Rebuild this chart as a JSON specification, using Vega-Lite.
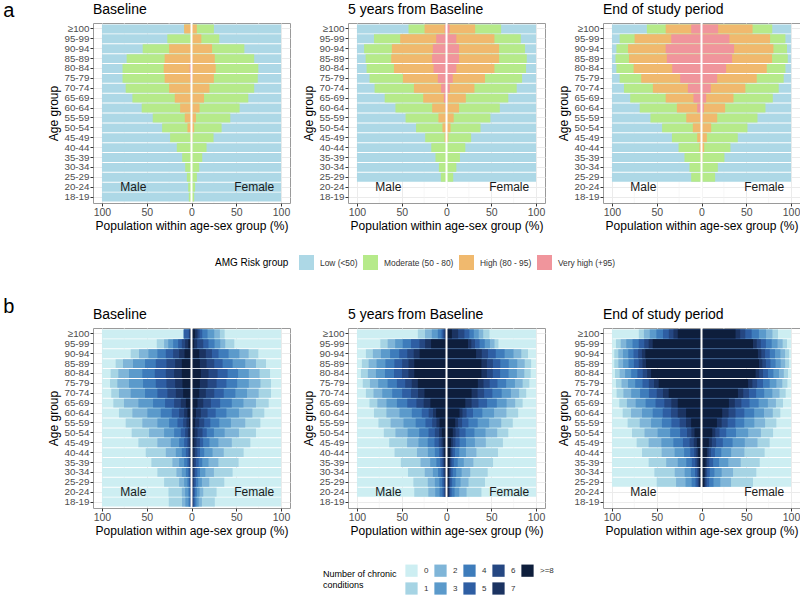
{
  "$schema": "https://vega.github.io/schema/vega-lite/v6.json",
  "background": "white",
  "padding": {"left": 3, "top": 1, "right": 1, "bottom": 3},
  "config": {
    "font": "Liberation Sans",
    "view": {"stroke": "#9a9a9a", "strokeWidth": 1},
    "axis": {"labelFontSize": 10.5, "labelColor": "#4D4D4D", "titleFontSize": 12, "titleFontWeight": "normal", "titleColor": "#000000", "tickColor": "#333333", "tickSize": 3, "domain": false, "gridColor": "#EBEBEB", "labelPadding": 1, "titlePadding": 3},
    "axisY": {"labelFontSize": 9.8},
    "title": {"fontSize": 14, "fontWeight": "normal", "anchor": "start", "frame": "group", "color": "#000000", "offset": 5},
    "concat": {"spacing": 11}
  },
  "datasets": {
    "sexlab": [
      {"x": -65, "a": "20-24", "t": "Male"},
      {"x": 70, "a": "20-24", "t": "Female"}
    ],
    "minor": [{"g": -75}, {"g": -25}, {"g": 25}, {"g": 75}],
    "risk": [
      {"p":1,"a":"≥100","s":"M","lo":-100,"mo":-8.2,"hi":-8.2,"vh":0},
      {"p":1,"a":"95-99","s":"M","lo":-100,"mo":-27,"hi":0,"vh":0},
      {"p":1,"a":"90-94","s":"M","lo":-100,"mo":-54.5,"hi":-25,"vh":0},
      {"p":1,"a":"85-89","s":"M","lo":-100,"mo":-72.4,"hi":-30,"vh":-0.8},
      {"p":1,"a":"80-84","s":"M","lo":-100,"mo":-77,"hi":-31,"vh":-2},
      {"p":1,"a":"75-79","s":"M","lo":-100,"mo":-77,"hi":-30,"vh":-1.5},
      {"p":1,"a":"70-74","s":"M","lo":-100,"mo":-73.5,"hi":-25,"vh":-0.5},
      {"p":1,"a":"65-69","s":"M","lo":-100,"mo":-66,"hi":-18.7,"vh":0},
      {"p":1,"a":"60-64","s":"M","lo":-100,"mo":-55.6,"hi":-12.7,"vh":0},
      {"p":1,"a":"55-59","s":"M","lo":-100,"mo":-43.3,"hi":-7.5,"vh":0},
      {"p":1,"a":"50-54","s":"M","lo":-100,"mo":-32.8,"hi":-4.5,"vh":0},
      {"p":1,"a":"45-49","s":"M","lo":-100,"mo":-23.9,"hi":-1,"vh":0},
      {"p":1,"a":"40-44","s":"M","lo":-100,"mo":-16.4,"hi":0,"vh":0},
      {"p":1,"a":"35-39","s":"M","lo":-100,"mo":-10.4,"hi":0,"vh":0},
      {"p":1,"a":"30-34","s":"M","lo":-100,"mo":-7,"hi":0,"vh":0},
      {"p":1,"a":"25-29","s":"M","lo":-100,"mo":-5.2,"hi":0,"vh":0},
      {"p":1,"a":"20-24","s":"M","lo":-100,"mo":-3.7,"hi":0,"vh":0},
      {"p":1,"a":"18-19","s":"M","lo":-100,"mo":-3,"hi":0,"vh":0},
      {"p":1,"a":"≥100","s":"F","lo":100,"mo":25,"hi":6,"vh":0},
      {"p":1,"a":"95-99","s":"F","lo":100,"mo":31,"hi":11,"vh":0},
      {"p":1,"a":"90-94","s":"F","lo":100,"mo":59,"hi":23,"vh":0},
      {"p":1,"a":"85-89","s":"F","lo":100,"mo":70,"hi":26,"vh":0.8},
      {"p":1,"a":"80-84","s":"F","lo":100,"mo":74.6,"hi":27,"vh":1},
      {"p":1,"a":"75-79","s":"F","lo":100,"mo":74,"hi":25,"vh":0.8},
      {"p":1,"a":"70-74","s":"F","lo":100,"mo":70,"hi":20,"vh":0},
      {"p":1,"a":"65-69","s":"F","lo":100,"mo":63.4,"hi":14,"vh":0},
      {"p":1,"a":"60-64","s":"F","lo":100,"mo":53.7,"hi":9,"vh":0},
      {"p":1,"a":"55-59","s":"F","lo":100,"mo":43.3,"hi":5,"vh":0},
      {"p":1,"a":"50-54","s":"F","lo":100,"mo":33.6,"hi":3,"vh":0},
      {"p":1,"a":"45-49","s":"F","lo":100,"mo":24.6,"hi":1,"vh":0},
      {"p":1,"a":"40-44","s":"F","lo":100,"mo":16.8,"hi":0,"vh":0},
      {"p":1,"a":"35-39","s":"F","lo":100,"mo":12,"hi":0,"vh":0},
      {"p":1,"a":"30-34","s":"F","lo":100,"mo":8.6,"hi":0,"vh":0},
      {"p":1,"a":"25-29","s":"F","lo":100,"mo":6,"hi":0,"vh":0},
      {"p":1,"a":"20-24","s":"F","lo":100,"mo":4,"hi":0,"vh":0},
      {"p":1,"a":"18-19","s":"F","lo":100,"mo":3,"hi":0,"vh":0},
      {"p":2,"a":"≥100","s":"M","lo":-100,"mo":-42.4,"hi":-24.5,"vh":-2},
      {"p":2,"a":"95-99","s":"M","lo":-100,"mo":-81,"hi":-51.7,"vh":-11.5},
      {"p":2,"a":"90-94","s":"M","lo":-100,"mo":-92,"hi":-61,"vh":-15.2},
      {"p":2,"a":"85-89","s":"M","lo":-100,"mo":-90.3,"hi":-61.7,"vh":-16},
      {"p":2,"a":"80-84","s":"M","lo":-100,"mo":-89.2,"hi":-58.7,"vh":-14.5},
      {"p":2,"a":"75-79","s":"M","lo":-100,"mo":-85.9,"hi":-48.7,"vh":-9.7},
      {"p":2,"a":"70-74","s":"M","lo":-100,"mo":-80.3,"hi":-36.4,"vh":-6},
      {"p":2,"a":"65-69","s":"M","lo":-100,"mo":-69,"hi":-26,"vh":-3},
      {"p":2,"a":"60-64","s":"M","lo":-100,"mo":-57,"hi":-16,"vh":-1},
      {"p":2,"a":"55-59","s":"M","lo":-100,"mo":-45.7,"hi":-9,"vh":0},
      {"p":2,"a":"50-54","s":"M","lo":-100,"mo":-34,"hi":-4.5,"vh":0},
      {"p":2,"a":"45-49","s":"M","lo":-100,"mo":-23.8,"hi":-2,"vh":0},
      {"p":2,"a":"40-44","s":"M","lo":-100,"mo":-17,"hi":0,"vh":0},
      {"p":2,"a":"35-39","s":"M","lo":-100,"mo":-12.3,"hi":0,"vh":0},
      {"p":2,"a":"30-34","s":"M","lo":-100,"mo":-8.5,"hi":0,"vh":0},
      {"p":2,"a":"25-29","s":"M","lo":-100,"mo":-6.3,"hi":0,"vh":0},
      {"p":2,"a":"≥100","s":"F","lo":100,"mo":61,"hi":32,"vh":3.5},
      {"p":2,"a":"95-99","s":"F","lo":100,"mo":83,"hi":53.5,"vh":11},
      {"p":2,"a":"90-94","s":"F","lo":100,"mo":87.7,"hi":58.7,"vh":14},
      {"p":2,"a":"85-89","s":"F","lo":100,"mo":89.6,"hi":58.7,"vh":14},
      {"p":2,"a":"80-84","s":"F","lo":100,"mo":88.8,"hi":53.5,"vh":11},
      {"p":2,"a":"75-79","s":"F","lo":100,"mo":84.4,"hi":43,"vh":7},
      {"p":2,"a":"70-74","s":"F","lo":100,"mo":78.4,"hi":31.2,"vh":3.7},
      {"p":2,"a":"65-69","s":"F","lo":100,"mo":69,"hi":21.6,"vh":1.5},
      {"p":2,"a":"60-64","s":"F","lo":100,"mo":59.5,"hi":14,"vh":1},
      {"p":2,"a":"55-59","s":"F","lo":100,"mo":49,"hi":8,"vh":0},
      {"p":2,"a":"50-54","s":"F","lo":100,"mo":38,"hi":4.5,"vh":0},
      {"p":2,"a":"45-49","s":"F","lo":100,"mo":27.5,"hi":2,"vh":0},
      {"p":2,"a":"40-44","s":"F","lo":100,"mo":21,"hi":0,"vh":0},
      {"p":2,"a":"35-39","s":"F","lo":100,"mo":15,"hi":0,"vh":0},
      {"p":2,"a":"30-34","s":"F","lo":100,"mo":11,"hi":0,"vh":0},
      {"p":2,"a":"25-29","s":"F","lo":100,"mo":7.5,"hi":0,"vh":0},
      {"p":3,"a":"≥100","s":"M","lo":-100,"mo":-61,"hi":-40,"vh":-11.5},
      {"p":3,"a":"95-99","s":"M","lo":-100,"mo":-91.4,"hi":-74.7,"vh":-33.8},
      {"p":3,"a":"90-94","s":"M","lo":-100,"mo":-95,"hi":-82,"vh":-40},
      {"p":3,"a":"85-89","s":"M","lo":-100,"mo":-96,"hi":-81,"vh":-38.7},
      {"p":3,"a":"80-84","s":"M","lo":-100,"mo":-95,"hi":-75.8,"vh":-32.7},
      {"p":3,"a":"75-79","s":"M","lo":-100,"mo":-91.4,"hi":-67.3,"vh":-23.8},
      {"p":3,"a":"70-74","s":"M","lo":-100,"mo":-86.6,"hi":-54.3,"vh":-15.2},
      {"p":3,"a":"65-69","s":"M","lo":-100,"mo":-79.6,"hi":-40,"vh":-9},
      {"p":3,"a":"60-64","s":"M","lo":-100,"mo":-69,"hi":-27.5,"vh":-4.8},
      {"p":3,"a":"55-59","s":"M","lo":-100,"mo":-57,"hi":-17,"vh":-1.5},
      {"p":3,"a":"50-54","s":"M","lo":-100,"mo":-44,"hi":-9.7,"vh":0},
      {"p":3,"a":"45-49","s":"M","lo":-100,"mo":-33,"hi":-4.8,"vh":0},
      {"p":3,"a":"40-44","s":"M","lo":-100,"mo":-25.6,"hi":-2.2,"vh":0},
      {"p":3,"a":"35-39","s":"M","lo":-100,"mo":-19,"hi":-1,"vh":0},
      {"p":3,"a":"30-34","s":"M","lo":-100,"mo":-13.4,"hi":0,"vh":0},
      {"p":3,"a":"25-29","s":"M","lo":-100,"mo":-11.5,"hi":0,"vh":0},
      {"p":3,"a":"≥100","s":"F","lo":100,"mo":79,"hi":57,"vh":18.6},
      {"p":3,"a":"95-99","s":"F","lo":100,"mo":93.7,"hi":76.6,"vh":31.2},
      {"p":3,"a":"90-94","s":"F","lo":100,"mo":95.5,"hi":80.3,"vh":36.4},
      {"p":3,"a":"85-89","s":"F","lo":100,"mo":96.3,"hi":78.8,"vh":34.2},
      {"p":3,"a":"80-84","s":"F","lo":100,"mo":93.7,"hi":72.9,"vh":27.5},
      {"p":3,"a":"75-79","s":"F","lo":100,"mo":91.8,"hi":61.7,"vh":17.5},
      {"p":3,"a":"70-74","s":"F","lo":100,"mo":86.2,"hi":49,"vh":10.4},
      {"p":3,"a":"65-69","s":"F","lo":100,"mo":79.6,"hi":35.7,"vh":5.2},
      {"p":3,"a":"60-64","s":"F","lo":100,"mo":71.4,"hi":26.4,"vh":2.6},
      {"p":3,"a":"55-59","s":"F","lo":100,"mo":62.5,"hi":17.5,"vh":1},
      {"p":3,"a":"50-54","s":"F","lo":100,"mo":51.3,"hi":10.8,"vh":0},
      {"p":3,"a":"45-49","s":"F","lo":100,"mo":40.5,"hi":6,"vh":0},
      {"p":3,"a":"40-44","s":"F","lo":100,"mo":32.3,"hi":3,"vh":0},
      {"p":3,"a":"35-39","s":"F","lo":100,"mo":25.6,"hi":1,"vh":0},
      {"p":3,"a":"30-34","s":"F","lo":100,"mo":18.2,"hi":0,"vh":0},
      {"p":3,"a":"25-29","s":"F","lo":100,"mo":15.2,"hi":0,"vh":0}
    ],
    "chron": [
      {"p":1,"a":"≥100","s":"M","n0":-100,"n1":-8.6,"n2":-8.6,"n3":-8.6,"n4":-8.6,"n5":-8.6,"n6":-3,"n7":-2,"n8":-1},
      {"p":1,"a":"95-99","s":"M","n0":-100,"n1":-38.8,"n2":-30.6,"n3":-26,"n4":-20.5,"n5":-14.9,"n6":-10.8,"n7":-7.1,"n8":-3.5},
      {"p":1,"a":"90-94","s":"M","n0":-100,"n1":-67.9,"n2":-58.6,"n3":-48.1,"n4":-38.1,"n5":-28.7,"n6":-20.5,"n7":-13.8,"n8":-7.8},
      {"p":1,"a":"85-89","s":"M","n0":-100,"n1":-84.7,"n2":-76.5,"n3":-65.3,"n4":-51.9,"n5":-39.9,"n6":-28,"n7":-18.3,"n8":-10.8},
      {"p":1,"a":"80-84","s":"M","n0":-100,"n1":-90.3,"n2":-81.7,"n3":-69.8,"n4":-54.9,"n5":-41,"n6":-28.7,"n7":-19.4,"n8":-10.8},
      {"p":1,"a":"75-79","s":"M","n0":-100,"n1":-91,"n2":-82.8,"n3":-69.8,"n4":-54.1,"n5":-39.9,"n6":-28,"n7":-18.3,"n8":-10.1},
      {"p":1,"a":"70-74","s":"M","n0":-100,"n1":-89.6,"n2":-81,"n3":-67.9,"n4":-51.9,"n5":-38.1,"n6":-26.9,"n7":-17.5,"n8":-9.3},
      {"p":1,"a":"65-69","s":"M","n0":-100,"n1":-87.3,"n2":-75.4,"n3":-59.3,"n4":-42.9,"n5":-29.5,"n6":-19.4,"n7":-11.9,"n8":-6.3},
      {"p":1,"a":"60-64","s":"M","n0":-100,"n1":-81,"n2":-66,"n3":-49.3,"n4":-34.3,"n5":-22,"n6":-13.8,"n7":-8.2,"n8":-4.5},
      {"p":1,"a":"55-59","s":"M","n0":-100,"n1":-73.5,"n2":-54.9,"n3":-38.1,"n4":-25,"n5":-15.7,"n6":-9.3,"n7":-5.6,"n8":-2.6},
      {"p":1,"a":"50-54","s":"M","n0":-100,"n1":-66.8,"n2":-47.4,"n3":-30.6,"n4":-19.4,"n5":-11.9,"n6":-7.1,"n7":-4.1,"n8":-1.9},
      {"p":1,"a":"45-49","s":"M","n0":-100,"n1":-59.3,"n2":-38.1,"n3":-23.1,"n4":-13.8,"n5":-8.2,"n6":-4.5,"n7":-2.2,"n8":-1.5},
      {"p":1,"a":"40-44","s":"M","n0":-100,"n1":-51.1,"n2":-28.7,"n3":-17.5,"n4":-10.8,"n5":-6.3,"n6":-3.4,"n7":-1.9,"n8":-1.1},
      {"p":1,"a":"35-39","s":"M","n0":-100,"n1":-44.8,"n2":-21.3,"n3":-13.8,"n4":-8.2,"n5":-4.5,"n6":-2.6,"n7":-1.5,"n8":-1.1},
      {"p":1,"a":"30-34","s":"M","n0":-100,"n1":-38.1,"n2":-16.8,"n3":-10.8,"n4":-6.3,"n5":-3.4,"n6":-1.9,"n7":-1.1,"n8":-0.7},
      {"p":1,"a":"25-29","s":"M","n0":-100,"n1":-30.6,"n2":-13.8,"n3":-8.2,"n4":-4.5,"n5":-2.6,"n6":-1.5,"n7":-0.9,"n8":-0.6},
      {"p":1,"a":"20-24","s":"M","n0":-100,"n1":-25.7,"n2":-10.8,"n3":-7.1,"n4":-3.4,"n5":-2,"n6":-1.2,"n7":-0.8,"n8":-0.5},
      {"p":1,"a":"18-19","s":"M","n0":-100,"n1":-25.4,"n2":-10.6,"n3":-6.8,"n4":-3.3,"n5":-1.9,"n6":-1.1,"n7":-0.7,"n8":-0.4},
      {"p":1,"a":"≥100","s":"F","n0":100,"n1":37,"n2":31.7,"n3":25.4,"n4":17.9,"n5":12,"n6":9,"n7":6.7,"n8":4},
      {"p":1,"a":"95-99","s":"F","n0":100,"n1":47.8,"n2":37.7,"n3":32.1,"n4":25.7,"n5":19,"n6":13.1,"n7":6.3,"n8":3},
      {"p":1,"a":"90-94","s":"F","n0":100,"n1":74.6,"n2":63.8,"n3":53.4,"n4":41.4,"n5":30.2,"n6":22.8,"n7":16,"n8":8.6},
      {"p":1,"a":"85-89","s":"F","n0":100,"n1":83.2,"n2":72,"n3":60,"n4":45.9,"n5":34.7,"n6":25.4,"n7":16.8,"n8":9.3},
      {"p":1,"a":"80-84","s":"F","n0":100,"n1":87.7,"n2":76,"n3":64,"n4":52,"n5":40.3,"n6":29.1,"n7":19,"n8":10.4},
      {"p":1,"a":"75-79","s":"F","n0":100,"n1":88.8,"n2":77,"n3":64,"n4":51,"n5":39,"n6":28,"n7":17.9,"n8":9.3},
      {"p":1,"a":"70-74","s":"F","n0":100,"n1":88.8,"n2":75,"n3":62,"n4":49,"n5":36,"n6":25.4,"n7":16,"n8":8.6},
      {"p":1,"a":"65-69","s":"F","n0":100,"n1":86.2,"n2":72,"n3":58,"n4":45,"n5":32,"n6":21.6,"n7":13.1,"n8":6.7},
      {"p":1,"a":"60-64","s":"F","n0":100,"n1":81.3,"n2":68,"n3":53,"n4":39,"n5":27,"n6":17.9,"n7":10.4,"n8":4.9},
      {"p":1,"a":"55-59","s":"F","n0":100,"n1":76.9,"n2":60,"n3":44,"n4":31,"n5":21,"n6":14.2,"n7":8.6,"n8":4.1},
      {"p":1,"a":"50-54","s":"F","n0":100,"n1":72,"n2":53,"n3":37,"n4":25,"n5":17,"n6":12.3,"n7":6.7,"n8":3.4},
      {"p":1,"a":"45-49","s":"F","n0":100,"n1":65.7,"n2":45,"n3":30,"n4":20,"n5":13,"n6":9.3,"n7":5.6,"n8":3},
      {"p":1,"a":"40-44","s":"F","n0":100,"n1":58.2,"n2":36,"n3":23.5,"n4":14.2,"n5":9.5,"n6":6.5,"n7":4,"n8":2},
      {"p":1,"a":"35-39","s":"F","n0":100,"n1":52.6,"n2":30,"n3":19,"n4":12,"n5":8,"n6":5,"n7":3,"n8":1.5},
      {"p":1,"a":"30-34","s":"F","n0":100,"n1":45.9,"n2":25,"n3":15.5,"n4":9.5,"n5":6.5,"n6":4,"n7":2.5,"n8":1.2},
      {"p":1,"a":"25-29","s":"F","n0":100,"n1":36.6,"n2":19.8,"n3":11.6,"n4":7.5,"n5":5,"n6":3.2,"n7":2,"n8":1},
      {"p":1,"a":"20-24","s":"F","n0":100,"n1":28,"n2":13.1,"n3":9,"n4":6,"n5":4,"n6":2.6,"n7":1.6,"n8":0.8},
      {"p":1,"a":"18-19","s":"F","n0":100,"n1":26,"n2":11.6,"n3":8,"n4":5.5,"n5":3.6,"n6":2.4,"n7":1.5,"n8":0.8},
      {"p":2,"a":"≥100","s":"M","n0":-100,"n1":-32,"n2":-24,"n3":-16.4,"n4":-9.7,"n5":-5.5,"n6":-3.5,"n7":-2,"n8":-1},
      {"p":2,"a":"95-99","s":"M","n0":-100,"n1":-73.9,"n2":-65.7,"n3":-57.3,"n4":-48.9,"n5":-39.6,"n6":-30.2,"n7":-23.9,"n8":-17.2},
      {"p":2,"a":"90-94","s":"M","n0":-100,"n1":-90,"n2":-82.2,"n3":-73.2,"n4":-63,"n5":-52.8,"n6":-43.8,"n7":-36.6,"n8":-30},
      {"p":2,"a":"85-89","s":"M","n0":-100,"n1":-94.5,"n2":-86.9,"n3":-78.1,"n4":-68.2,"n5":-58.2,"n6":-49.5,"n7":-42.4,"n8":-36},
      {"p":2,"a":"80-84","s":"M","n0":-100,"n1":-95.5,"n2":-87.8,"n3":-78.8,"n4":-68.7,"n5":-58.6,"n6":-49.7,"n7":-42.5,"n8":-36},
      {"p":2,"a":"75-79","s":"M","n0":-100,"n1":-93.5,"n2":-85.5,"n3":-76.3,"n4":-65.8,"n5":-55.4,"n6":-46.1,"n7":-38.8,"n8":-32},
      {"p":2,"a":"70-74","s":"M","n0":-100,"n1":-90,"n2":-81.5,"n3":-71.7,"n4":-60.6,"n5":-49.5,"n6":-39.6,"n7":-31.8,"n8":-24.6},
      {"p":2,"a":"65-69","s":"M","n0":-100,"n1":-86,"n2":-77.2,"n3":-67,"n4":-55.4,"n5":-43.8,"n6":-33.6,"n7":-25.5,"n8":-18},
      {"p":2,"a":"60-64","s":"M","n0":-100,"n1":-81,"n2":-67.1,"n3":-52.5,"n4":-38.7,"n5":-27.6,"n6":-19.9,"n7":-15.1,"n8":-11.6},
      {"p":2,"a":"55-59","s":"M","n0":-100,"n1":-76,"n2":-62.4,"n3":-48,"n4":-34.4,"n5":-23.5,"n6":-16,"n7":-11.2,"n8":-7.8},
      {"p":2,"a":"50-54","s":"M","n0":-100,"n1":-70,"n2":-57,"n3":-43.4,"n4":-30.5,"n5":-20.1,"n6":-13,"n7":-8.4,"n8":-5.2},
      {"p":2,"a":"45-49","s":"M","n0":-100,"n1":-64,"n2":-44,"n3":-31.3,"n4":-21,"n5":-13.4,"n6":-8.6,"n7":-5.5,"n8":-3.4},
      {"p":2,"a":"40-44","s":"M","n0":-100,"n1":-58,"n2":-33,"n3":-20.8,"n4":-13,"n5":-8.1,"n6":-5.3,"n7":-3.6,"n8":-2.5},
      {"p":2,"a":"35-39","s":"M","n0":-100,"n1":-51,"n2":-29,"n3":-18.2,"n4":-11.3,"n5":-6.9,"n6":-4.5,"n7":-3,"n8":-2},
      {"p":2,"a":"30-34","s":"M","n0":-100,"n1":-43,"n2":-24.3,"n3":-15.2,"n4":-9.4,"n5":-5.7,"n6":-3.6,"n7":-2.3,"n8":-1.5},
      {"p":2,"a":"25-29","s":"M","n0":-100,"n1":-37,"n2":-20.9,"n3":-13,"n4":-8,"n5":-4.8,"n6":-3,"n7":-1.9,"n8":-1.2},
      {"p":2,"a":"20-24","s":"M","n0":-100,"n1":-36,"n2":-20.3,"n3":-12.6,"n4":-7.7,"n5":-4.5,"n6":-2.8,"n7":-1.7,"n8":-1},
      {"p":2,"a":"≥100","s":"F","n0":100,"n1":48,"n2":41,"n3":36,"n4":30.5,"n5":25.5,"n6":20,"n7":13,"n8":6},
      {"p":2,"a":"95-99","s":"F","n0":100,"n1":58,"n2":53.6,"n3":48.5,"n4":42.7,"n5":36.9,"n6":31.8,"n7":27.7,"n8":24},
      {"p":2,"a":"90-94","s":"F","n0":100,"n1":91,"n2":83.5,"n3":74.8,"n4":64.9,"n5":55,"n6":46.3,"n7":39.4,"n8":33},
      {"p":2,"a":"85-89","s":"F","n0":100,"n1":94.5,"n2":87.3,"n3":79,"n4":69.5,"n5":60.1,"n6":51.8,"n7":45.1,"n8":39},
      {"p":2,"a":"80-84","s":"F","n0":100,"n1":94,"n2":86.9,"n3":78.6,"n4":69.3,"n5":59.9,"n6":51.7,"n7":45.1,"n8":39},
      {"p":2,"a":"75-79","s":"F","n0":100,"n1":92.5,"n2":85,"n3":76.4,"n4":66.6,"n5":56.9,"n6":48.2,"n7":41.3,"n8":35},
      {"p":2,"a":"70-74","s":"F","n0":100,"n1":89,"n2":81.1,"n3":71.9,"n4":61.6,"n5":51.2,"n6":42,"n7":34.7,"n8":28},
      {"p":2,"a":"65-69","s":"F","n0":100,"n1":85,"n2":76.7,"n3":67.1,"n4":56.2,"n5":45.3,"n6":35.7,"n7":28,"n8":21},
      {"p":2,"a":"60-64","s":"F","n0":100,"n1":80,"n2":66.9,"n3":53.1,"n4":40,"n5":29.6,"n6":22.4,"n7":17.8,"n8":14.5},
      {"p":2,"a":"55-59","s":"F","n0":100,"n1":74,"n2":61.1,"n3":47.6,"n4":34.8,"n5":24.5,"n6":17.4,"n7":12.9,"n8":9.7},
      {"p":2,"a":"50-54","s":"F","n0":100,"n1":69,"n2":56.6,"n3":43.6,"n4":31.2,"n5":21.3,"n6":14.4,"n7":10.1,"n8":7},
      {"p":2,"a":"45-49","s":"F","n0":100,"n1":63,"n2":43.9,"n3":31.7,"n4":21.8,"n5":14.6,"n6":9.9,"n7":7,"n8":5},
      {"p":2,"a":"40-44","s":"F","n0":100,"n1":57.5,"n2":33.4,"n3":21.7,"n4":14.2,"n5":9.4,"n6":6.7,"n7":5.1,"n8":4},
      {"p":2,"a":"35-39","s":"F","n0":100,"n1":52,"n2":30,"n3":19.3,"n4":12.5,"n5":8.1,"n6":5.6,"n7":4.2,"n8":3.2},
      {"p":2,"a":"30-34","s":"F","n0":100,"n1":46,"n2":26.5,"n3":16.9,"n4":10.8,"n5":6.9,"n6":4.8,"n7":3.5,"n8":2.6},
      {"p":2,"a":"25-29","s":"F","n0":100,"n1":43,"n2":24.6,"n3":15.7,"n4":10,"n5":6.3,"n6":4.2,"n7":3,"n8":2.2},
      {"p":2,"a":"20-24","s":"F","n0":100,"n1":39,"n2":22.4,"n3":14.2,"n4":9,"n5":5.7,"n6":3.9,"n7":2.7,"n8":2},
      {"p":3,"a":"≥100","s":"M","n0":-100,"n1":-70,"n2":-64.3,"n3":-57.8,"n4":-50.4,"n5":-43,"n6":-36.5,"n7":-31.3,"n8":-26.5},
      {"p":3,"a":"95-99","s":"M","n0":-100,"n1":-95.5,"n2":-90.2,"n3":-84,"n4":-77,"n5":-70.1,"n6":-63.9,"n7":-59,"n8":-54.5},
      {"p":3,"a":"90-94","s":"M","n0":-100,"n1":-97.4,"n2":-92.9,"n3":-87.7,"n4":-81.8,"n5":-75.9,"n6":-70.7,"n7":-66.5,"n8":-62.7},
      {"p":3,"a":"85-89","s":"M","n0":-100,"n1":-97.4,"n2":-92.8,"n3":-87.5,"n4":-81.5,"n5":-75.5,"n6":-70.1,"n7":-65.9,"n8":-62},
      {"p":3,"a":"80-84","s":"M","n0":-100,"n1":-96.6,"n2":-91.4,"n3":-85.3,"n4":-78.5,"n5":-71.6,"n6":-65.6,"n7":-60.7,"n8":-56.3},
      {"p":3,"a":"75-79","s":"M","n0":-100,"n1":-95.5,"n2":-89.3,"n3":-82.1,"n4":-74,"n5":-65.9,"n6":-58.8,"n7":-53,"n8":-47.8},
      {"p":3,"a":"70-74","s":"M","n0":-100,"n1":-94.8,"n2":-87.2,"n3":-78.5,"n4":-68.6,"n5":-58.7,"n6":-50,"n7":-43,"n8":-36.6},
      {"p":3,"a":"65-69","s":"M","n0":-100,"n1":-91.8,"n2":-83.3,"n3":-73.5,"n4":-62.4,"n5":-51.3,"n6":-41.5,"n7":-33.7,"n8":-26.5},
      {"p":3,"a":"60-64","s":"M","n0":-100,"n1":-88,"n2":-78.7,"n3":-66.4,"n4":-54.5,"n5":-43.3,"n6":-34,"n7":-26.5,"n8":-17.2},
      {"p":3,"a":"55-59","s":"M","n0":-100,"n1":-82.5,"n2":-69,"n3":-56.3,"n4":-44.2,"n5":-33.6,"n6":-24.4,"n7":-17.3,"n8":-11.6},
      {"p":3,"a":"50-54","s":"M","n0":-100,"n1":-77.6,"n2":-63.6,"n3":-49,"n4":-35,"n5":-23.9,"n6":-16.2,"n7":-11.3,"n8":-7.8},
      {"p":3,"a":"45-49","s":"M","n0":-100,"n1":-72.4,"n2":-59,"n3":-44.8,"n4":-31.4,"n5":-20.7,"n6":-13.3,"n7":-8.6,"n8":-5.2},
      {"p":3,"a":"40-44","s":"M","n0":-100,"n1":-66.4,"n2":-44.5,"n3":-30,"n4":-19.4,"n5":-12.5,"n6":-8.1,"n7":-5.6,"n8":-3.7},
      {"p":3,"a":"35-39","s":"M","n0":-100,"n1":-59,"n2":-39.4,"n3":-26.5,"n4":-17,"n5":-10.8,"n6":-6.9,"n7":-4.7,"n8":-3},
      {"p":3,"a":"30-34","s":"M","n0":-100,"n1":-52.6,"n2":-29.9,"n3":-18.8,"n4":-11.8,"n5":-7.2,"n6":-4.7,"n7":-3.2,"n8":-2.2},
      {"p":3,"a":"25-29","s":"M","n0":-100,"n1":-50,"n2":-28.4,"n3":-17.8,"n4":-11,"n5":-6.7,"n6":-4.3,"n7":-2.9,"n8":-1.9},
      {"p":3,"a":"≥100","s":"F","n0":100,"n1":85.4,"n2":79.2,"n3":72.1,"n4":64.1,"n5":56,"n6":48.9,"n7":43.2,"n8":38},
      {"p":3,"a":"95-99","s":"F","n0":100,"n1":95.5,"n2":90.6,"n3":84.9,"n4":78.4,"n5":71.9,"n6":66.2,"n7":61.7,"n8":57.5},
      {"p":3,"a":"90-94","s":"F","n0":100,"n1":97.8,"n2":93.3,"n3":88.1,"n4":82.1,"n5":76.2,"n6":71,"n7":66.8,"n8":63},
      {"p":3,"a":"85-89","s":"F","n0":100,"n1":97.8,"n2":93.4,"n3":88.4,"n4":82.7,"n5":77,"n6":71.9,"n7":67.9,"n8":64.2},
      {"p":3,"a":"80-84","s":"F","n0":100,"n1":96.6,"n2":91.9,"n3":86.5,"n4":80.3,"n5":74.2,"n6":68.7,"n7":64.4,"n8":60.4},
      {"p":3,"a":"75-79","s":"F","n0":100,"n1":95.9,"n2":90.2,"n3":83.6,"n4":76.1,"n5":68.7,"n6":62.1,"n7":56.8,"n8":52},
      {"p":3,"a":"70-74","s":"F","n0":100,"n1":94,"n2":87.1,"n3":79.1,"n4":70,"n5":61,"n6":53,"n7":46.6,"n8":40.7},
      {"p":3,"a":"65-69","s":"F","n0":100,"n1":91,"n2":83.1,"n3":74.1,"n4":63.8,"n5":53.6,"n6":44.5,"n7":37.2,"n8":30.6},
      {"p":3,"a":"60-64","s":"F","n0":100,"n1":88,"n2":79.6,"n3":69.8,"n4":58.8,"n5":47.8,"n6":38,"n7":30.2,"n8":23.1},
      {"p":3,"a":"55-59","s":"F","n0":100,"n1":83.6,"n2":71,"n3":59,"n4":47.7,"n5":37.8,"n6":29.2,"n7":22.5,"n8":17.2},
      {"p":3,"a":"50-54","s":"F","n0":100,"n1":79.9,"n2":66.3,"n3":52.1,"n4":38.5,"n5":27.6,"n6":20.1,"n7":15.4,"n8":12},
      {"p":3,"a":"45-49","s":"F","n0":100,"n1":76.1,"n2":62.5,"n3":48.3,"n4":34.7,"n5":23.8,"n6":16.3,"n7":11.6,"n8":8.2},
      {"p":3,"a":"40-44","s":"F","n0":100,"n1":70.5,"n2":47.9,"n3":33.1,"n4":22.1,"n5":15,"n6":10.5,"n7":7.9,"n8":6},
      {"p":3,"a":"35-39","s":"F","n0":100,"n1":65,"n2":43.8,"n3":29.9,"n4":19.6,"n5":13,"n6":8.7,"n7":6.3,"n8":4.5},
      {"p":3,"a":"30-34","s":"F","n0":100,"n1":61.2,"n2":35.2,"n3":22.5,"n4":14.4,"n5":9.2,"n6":6.3,"n7":4.6,"n8":3.4},
      {"p":3,"a":"25-29","s":"F","n0":100,"n1":57.5,"n2":33,"n3":21,"n4":13.4,"n5":8.5,"n6":5.7,"n7":4.1,"n8":3}
    ]
  },
  "vconcat": [
    {
      "title": {"text": "a", "orient": "left", "anchor": "end", "angle": 0, "align": "right", "baseline": "top", "fontSize": 20, "offset": 22, "dy": -22},
      "hconcat": [
        {
          "width": 197, "height": 180, "title": "Baseline",
          "layer": [
            {"data": {"name": "minor"}, "mark": {"type": "rule", "color": "#F2F2F2", "strokeWidth": 0.6}, "encoding": {"x": {"field": "g", "type": "quantitative", "title": "Population within age-sex group (%)", "scale": {"domain": [-110, 110], "nice": false}, "axis": {"values": [-100, -50, 0, 50, 100], "labelExpr": "abs(datum.value)", "grid": true}}}},
            {"data": {"name": "risk"}, "transform": [{"filter": "datum.p == 1"}, {"fold": ["lo", "mo", "hi", "vh"], "as": ["k", "v"]}],
             "mark": {"type": "bar"},
             "encoding": {
               "x": {"field": "v", "type": "quantitative", "stack": null, "title": "Population within age-sex group (%)", "scale": {"domain": [-110, 110], "nice": false}, "axis": {"values": [-100, -50, 0, 50, 100], "labelExpr": "abs(datum.value)", "grid": true}},
               "y": {"field": "a", "type": "nominal", "title": "Age group", "scale": {"domain": ["≥100","95-99","90-94","85-89","80-84","75-79","70-74","65-69","60-64","55-59","50-54","45-49","40-44","35-39","30-34","25-29","20-24","18-19"], "paddingInner": 0.1, "paddingOuter": 0.15}, "axis": {"bandPosition": 0.5, "grid": true}},
               "color": {"field": "k", "type": "nominal", "scale": {"domain": ["lo", "mo", "hi", "vh"], "range": ["#ADD8E6", "#B6EA8A", "#F0B96E", "#F0959C"]}, "legend": null}
             }},
            {"data": {"values": [{}]}, "mark": {"type": "rule", "color": "white", "strokeWidth": 2}, "encoding": {"x": {"datum": 0}}},
            {"data": {"name": "sexlab"}, "mark": {"type": "text", "fontSize": 12, "color": "#1a1a1a"}, "encoding": {"x": {"field": "x", "type": "quantitative", "title": "Population within age-sex group (%)", "scale": {"domain": [-110, 110], "nice": false}}, "y": {"field": "a", "type": "nominal", "title": "Age group"}, "text": {"field": "t"}}}
          ]
        },
        {
          "width": 197, "height": 180, "title": "5 years from Baseline",
          "layer": [
            {"data": {"name": "minor"}, "mark": {"type": "rule", "color": "#F2F2F2", "strokeWidth": 0.6}, "encoding": {"x": {"field": "g", "type": "quantitative", "title": "Population within age-sex group (%)", "scale": {"domain": [-110, 110], "nice": false}, "axis": {"values": [-100, -50, 0, 50, 100], "labelExpr": "abs(datum.value)", "grid": true}}}},
            {"data": {"name": "risk"}, "transform": [{"filter": "datum.p == 2"}, {"fold": ["lo", "mo", "hi", "vh"], "as": ["k", "v"]}],
             "mark": {"type": "bar"},
             "encoding": {
               "x": {"field": "v", "type": "quantitative", "stack": null, "title": "Population within age-sex group (%)", "scale": {"domain": [-110, 110], "nice": false}, "axis": {"values": [-100, -50, 0, 50, 100], "labelExpr": "abs(datum.value)", "grid": true}},
               "y": {"field": "a", "type": "nominal", "title": "Age group", "scale": {"domain": ["≥100","95-99","90-94","85-89","80-84","75-79","70-74","65-69","60-64","55-59","50-54","45-49","40-44","35-39","30-34","25-29","20-24","18-19"], "paddingInner": 0.1, "paddingOuter": 0.15}, "axis": {"bandPosition": 0.5, "grid": true}},
               "color": {"field": "k", "type": "nominal", "scale": {"domain": ["lo", "mo", "hi", "vh"], "range": ["#ADD8E6", "#B6EA8A", "#F0B96E", "#F0959C"]}, "legend": null}
             }},
            {"data": {"values": [{}]}, "mark": {"type": "rule", "color": "white", "strokeWidth": 2}, "encoding": {"x": {"datum": 0}}},
            {"data": {"name": "sexlab"}, "mark": {"type": "text", "fontSize": 12, "color": "#1a1a1a"}, "encoding": {"x": {"field": "x", "type": "quantitative", "title": "Population within age-sex group (%)", "scale": {"domain": [-110, 110], "nice": false}}, "y": {"field": "a", "type": "nominal", "title": "Age group"}, "text": {"field": "t"}}}
          ]
        },
        {
          "width": 197, "height": 180, "title": "End of study period",
          "layer": [
            {"data": {"name": "minor"}, "mark": {"type": "rule", "color": "#F2F2F2", "strokeWidth": 0.6}, "encoding": {"x": {"field": "g", "type": "quantitative", "title": "Population within age-sex group (%)", "scale": {"domain": [-110, 110], "nice": false}, "axis": {"values": [-100, -50, 0, 50, 100], "labelExpr": "abs(datum.value)", "grid": true}}}},
            {"data": {"name": "risk"}, "transform": [{"filter": "datum.p == 3"}, {"fold": ["lo", "mo", "hi", "vh"], "as": ["k", "v"]}],
             "mark": {"type": "bar"},
             "encoding": {
               "x": {"field": "v", "type": "quantitative", "stack": null, "title": "Population within age-sex group (%)", "scale": {"domain": [-110, 110], "nice": false}, "axis": {"values": [-100, -50, 0, 50, 100], "labelExpr": "abs(datum.value)", "grid": true}},
               "y": {"field": "a", "type": "nominal", "title": "Age group", "scale": {"domain": ["≥100","95-99","90-94","85-89","80-84","75-79","70-74","65-69","60-64","55-59","50-54","45-49","40-44","35-39","30-34","25-29","20-24","18-19"], "paddingInner": 0.1, "paddingOuter": 0.15}, "axis": {"bandPosition": 0.5, "grid": true}},
               "color": {"field": "k", "type": "nominal", "scale": {"domain": ["lo", "mo", "hi", "vh"], "range": ["#ADD8E6", "#B6EA8A", "#F0B96E", "#F0959C"]}, "legend": null}
             }},
            {"data": {"values": [{}]}, "mark": {"type": "rule", "color": "white", "strokeWidth": 2}, "encoding": {"x": {"datum": 0}}},
            {"data": {"name": "sexlab"}, "mark": {"type": "text", "fontSize": 12, "color": "#1a1a1a"}, "encoding": {"x": {"field": "x", "type": "quantitative", "title": "Population within age-sex group (%)", "scale": {"domain": [-110, 110], "nice": false}}, "y": {"field": "a", "type": "nominal", "title": "Age group"}, "text": {"field": "t"}}}
          ]
        }
      ]
    },
    {
      "width": 1, "height": 19,
      "view": {"stroke": null},
      "data": {"values": [{"k": "lo"}]},
      "transform": [{"filter": "false"}],
      "mark": "square",
      "encoding": {
        "color": {"field": "k", "type": "nominal",
          "scale": {"domain": ["lo", "mo", "hi", "vh"], "range": ["#ADD8E6", "#B6EA8A", "#F0B96E", "#F0959C"]},
          "legend": {"title": "AMG Risk group", "orient": "none", "legendX": 122, "legendY": 0, "direction": "horizontal", "titleOrient": "left", "titleAnchor": "middle", "titleBaseline": "middle", "titleFontSize": 10, "titleFontWeight": "normal", "titleColor": "#000000", "titlePadding": 10, "labelFontSize": 8.4, "labelColor": "#333333", "symbolType": "square", "symbolSize": 225, "symbolStrokeWidth": 0, "symbolOpacity": 1, "labelOffset": 6, "columnPadding": 5,
            "labelExpr": "datum.label == 'lo' ? 'Low (<50)' : datum.label == 'mo' ? 'Moderate (50 - 80)' : datum.label == 'hi' ? 'High (80 - 95)' : 'Very high (+95)'"}
        }
      }
    },
    {
      "title": {"text": "b", "orient": "left", "anchor": "end", "angle": 0, "align": "right", "baseline": "top", "fontSize": 20, "offset": 22, "dy": -31},
      "hconcat": [
        {
          "width": 197, "height": 180, "title": "Baseline",
          "layer": [
            {"data": {"name": "minor"}, "mark": {"type": "rule", "color": "#F2F2F2", "strokeWidth": 0.6}, "encoding": {"x": {"field": "g", "type": "quantitative", "title": "Population within age-sex group (%)", "scale": {"domain": [-110, 110], "nice": false}, "axis": {"values": [-100, -50, 0, 50, 100], "labelExpr": "abs(datum.value)", "grid": true}}}},
            {"data": {"name": "chron"}, "transform": [{"filter": "datum.p == 1"}, {"fold": ["n0", "n1", "n2", "n3", "n4", "n5", "n6", "n7", "n8"], "as": ["k", "v"]}],
             "mark": {"type": "bar"},
             "encoding": {
               "x": {"field": "v", "type": "quantitative", "stack": null, "title": "Population within age-sex group (%)", "scale": {"domain": [-110, 110], "nice": false}, "axis": {"values": [-100, -50, 0, 50, 100], "labelExpr": "abs(datum.value)", "grid": true}},
               "y": {"field": "a", "type": "nominal", "title": "Age group", "scale": {"domain": ["≥100","95-99","90-94","85-89","80-84","75-79","70-74","65-69","60-64","55-59","50-54","45-49","40-44","35-39","30-34","25-29","20-24","18-19"], "paddingInner": 0.1, "paddingOuter": 0.15}, "axis": {"bandPosition": 0.5, "grid": true}},
               "color": {"field": "k", "type": "nominal", "scale": {"domain": ["n0", "n2", "n4", "n6", "n8", "n1", "n3", "n5", "n7"], "range": ["#CDEEF2", "#7FB5D8", "#3E7CBB", "#254782", "#0E1E3C", "#A6D4E4", "#5B9ACB", "#2E5EA3", "#1B3361"]}, "legend": null}
             }},
            {"data": {"values": [{}]}, "mark": {"type": "rule", "color": "white", "strokeWidth": 2}, "encoding": {"x": {"datum": 0}}},
            {"data": {"name": "sexlab"}, "mark": {"type": "text", "fontSize": 12, "color": "#1a1a1a"}, "encoding": {"x": {"field": "x", "type": "quantitative", "title": "Population within age-sex group (%)", "scale": {"domain": [-110, 110], "nice": false}}, "y": {"field": "a", "type": "nominal", "title": "Age group"}, "text": {"field": "t"}}}
          ]
        },
        {
          "width": 197, "height": 180, "title": "5 years from Baseline",
          "layer": [
            {"data": {"name": "minor"}, "mark": {"type": "rule", "color": "#F2F2F2", "strokeWidth": 0.6}, "encoding": {"x": {"field": "g", "type": "quantitative", "title": "Population within age-sex group (%)", "scale": {"domain": [-110, 110], "nice": false}, "axis": {"values": [-100, -50, 0, 50, 100], "labelExpr": "abs(datum.value)", "grid": true}}}},
            {"data": {"name": "chron"}, "transform": [{"filter": "datum.p == 2"}, {"fold": ["n0", "n1", "n2", "n3", "n4", "n5", "n6", "n7", "n8"], "as": ["k", "v"]}],
             "mark": {"type": "bar"},
             "encoding": {
               "x": {"field": "v", "type": "quantitative", "stack": null, "title": "Population within age-sex group (%)", "scale": {"domain": [-110, 110], "nice": false}, "axis": {"values": [-100, -50, 0, 50, 100], "labelExpr": "abs(datum.value)", "grid": true}},
               "y": {"field": "a", "type": "nominal", "title": "Age group", "scale": {"domain": ["≥100","95-99","90-94","85-89","80-84","75-79","70-74","65-69","60-64","55-59","50-54","45-49","40-44","35-39","30-34","25-29","20-24","18-19"], "paddingInner": 0.1, "paddingOuter": 0.15}, "axis": {"bandPosition": 0.5, "grid": true}},
               "color": {"field": "k", "type": "nominal", "scale": {"domain": ["n0", "n2", "n4", "n6", "n8", "n1", "n3", "n5", "n7"], "range": ["#CDEEF2", "#7FB5D8", "#3E7CBB", "#254782", "#0E1E3C", "#A6D4E4", "#5B9ACB", "#2E5EA3", "#1B3361"]}, "legend": null}
             }},
            {"data": {"values": [{}]}, "mark": {"type": "rule", "color": "white", "strokeWidth": 2}, "encoding": {"x": {"datum": 0}}},
            {"data": {"name": "sexlab"}, "mark": {"type": "text", "fontSize": 12, "color": "#1a1a1a"}, "encoding": {"x": {"field": "x", "type": "quantitative", "title": "Population within age-sex group (%)", "scale": {"domain": [-110, 110], "nice": false}}, "y": {"field": "a", "type": "nominal", "title": "Age group"}, "text": {"field": "t"}}}
          ]
        },
        {
          "width": 197, "height": 180, "title": "End of study period",
          "layer": [
            {"data": {"name": "minor"}, "mark": {"type": "rule", "color": "#F2F2F2", "strokeWidth": 0.6}, "encoding": {"x": {"field": "g", "type": "quantitative", "title": "Population within age-sex group (%)", "scale": {"domain": [-110, 110], "nice": false}, "axis": {"values": [-100, -50, 0, 50, 100], "labelExpr": "abs(datum.value)", "grid": true}}}},
            {"data": {"name": "chron"}, "transform": [{"filter": "datum.p == 3"}, {"fold": ["n0", "n1", "n2", "n3", "n4", "n5", "n6", "n7", "n8"], "as": ["k", "v"]}],
             "mark": {"type": "bar"},
             "encoding": {
               "x": {"field": "v", "type": "quantitative", "stack": null, "title": "Population within age-sex group (%)", "scale": {"domain": [-110, 110], "nice": false}, "axis": {"values": [-100, -50, 0, 50, 100], "labelExpr": "abs(datum.value)", "grid": true}},
               "y": {"field": "a", "type": "nominal", "title": "Age group", "scale": {"domain": ["≥100","95-99","90-94","85-89","80-84","75-79","70-74","65-69","60-64","55-59","50-54","45-49","40-44","35-39","30-34","25-29","20-24","18-19"], "paddingInner": 0.1, "paddingOuter": 0.15}, "axis": {"bandPosition": 0.5, "grid": true}},
               "color": {"field": "k", "type": "nominal", "scale": {"domain": ["n0", "n2", "n4", "n6", "n8", "n1", "n3", "n5", "n7"], "range": ["#CDEEF2", "#7FB5D8", "#3E7CBB", "#254782", "#0E1E3C", "#A6D4E4", "#5B9ACB", "#2E5EA3", "#1B3361"]}, "legend": null}
             }},
            {"data": {"values": [{}]}, "mark": {"type": "rule", "color": "white", "strokeWidth": 2}, "encoding": {"x": {"datum": 0}}},
            {"data": {"name": "sexlab"}, "mark": {"type": "text", "fontSize": 12, "color": "#1a1a1a"}, "encoding": {"x": {"field": "x", "type": "quantitative", "title": "Population within age-sex group (%)", "scale": {"domain": [-110, 110], "nice": false}}, "y": {"field": "a", "type": "nominal", "title": "Age group"}, "text": {"field": "t"}}}
          ]
        }
      ]
    },
    {
      "width": 1, "height": 10,
      "view": {"stroke": null},
      "data": {"values": [{"k": "n0"}]},
      "transform": [{"filter": "false"}],
      "mark": "square",
      "encoding": {
        "color": {"field": "k", "type": "nominal",
          "scale": {"domain": ["n0", "n2", "n4", "n6", "n8", "n1", "n3", "n5", "n7"], "range": ["#CDEEF2", "#7FB5D8", "#3E7CBB", "#254782", "#0E1E3C", "#A6D4E4", "#5B9ACB", "#2E5EA3", "#1B3361"]},
          "legend": {"title": ["Number of chronic", "conditions"], "orient": "none", "legendX": 230, "legendY": 4, "direction": "horizontal", "columns": 5, "titleOrient": "left", "titleAnchor": "middle", "titleBaseline": "middle", "titleFontSize": 9, "titleFontWeight": "normal", "titleColor": "#000000", "titlePadding": 8, "labelFontSize": 8, "labelColor": "#333333", "symbolType": "square", "symbolSize": 150, "symbolStrokeWidth": 0, "symbolOpacity": 1, "labelOffset": 6, "columnPadding": 5, "rowPadding": 5,
            "labelExpr": "datum.label == 'n8' ? '>=8' : substring(datum.label, 1)"}
        }
      }
    }
  ],
  "spacing": 23,
  "resolve": {"scale": {"color": "independent"}, "legend": {"color": "independent"}}
}
